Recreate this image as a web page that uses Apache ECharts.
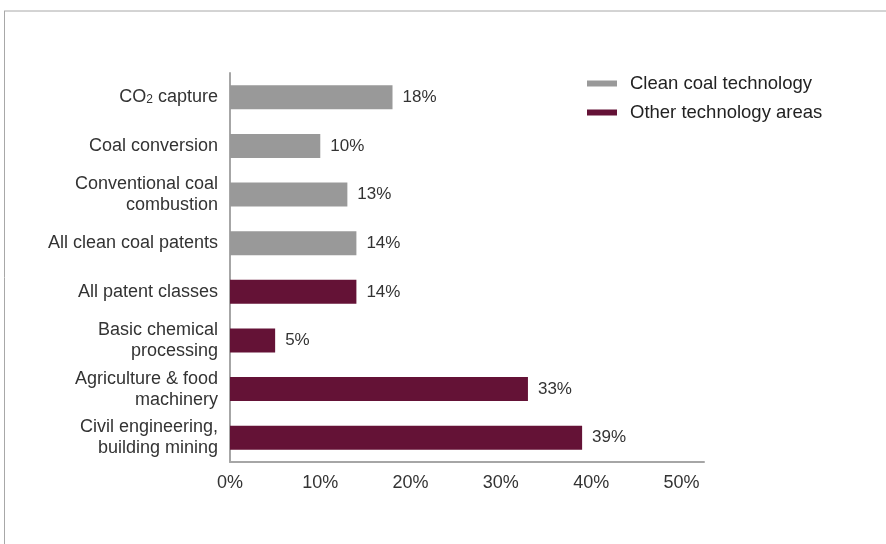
<!DOCTYPE html>
<html>
<head>
<meta charset="utf-8">
<script src="https://cdn.jsdelivr.net/npm/echarts@6/dist/echarts.min.js"></script>
<style>
  html, body { margin: 0; padding: 0; background: #fff; }
  #main { width: 886px; height: 544px; }
</style>
</head>
<body>
<div id="main"></div>
<script>
var categories = [
    'CO2 capture',
    'Coal conversion',
    'Conventional coal\ncombustion',
    'All clean coal patents',
    'All patent classes',
    'Basic chemical\nprocessing',
    'Agriculture & food\nmachinery',
    'Civil engineering,\nbuilding mining'
];
var cleanCoal = [18, 10, 13, 14, '-', '-', '-', '-'];
var otherAreas = ['-', '-', '-', '-', 14, 5, 33, 39];
var xTicks = [0, 10, 20, 30, 40, 50];

var myChart = echarts.init(document.getElementById('main'));
var font = '"Liberation Sans", Arial, sans-serif';

var option = {
    backgroundColor: '#fff',
    animation: false,
    textStyle: { fontFamily: font },
    graphic: [
        { type: 'line', shape: { x1: 4, y1: 11, x2: 886, y2: 11 }, style: { stroke: '#a8a8a8', lineWidth: 1 } },
        { type: 'line', shape: { x1: 4.5, y1: 11, x2: 4.5, y2: 544 }, style: { stroke: '#a8a8a8', lineWidth: 1 } }
    ],
    legend: {
        orient: 'vertical',
        left: 582,
        top: 69,
        itemWidth: 30,
        itemHeight: 6,
        itemGap: 10,
        icon: 'rect',
        textStyle: { fontSize: 18.5, color: '#222', padding: [0, 0, 0, 8] },
        data: ['Clean coal technology', 'Other technology areas']
    },
    grid: { left: 230, right: 182, top: 73, bottom: 82, containLabel: false },
    xAxis: {
        type: 'value',
        min: 0,
        max: 52.5,
        interval: 10,
        axisLine: { show: true, lineStyle: { color: '#a6a6a6', width: 2 } },
        axisTick: { show: false },
        splitLine: { show: false },
        axisLabel: {
            showMaxLabel: false,
            margin: 12,
            fontSize: 18,
            color: '#333',
            formatter: function (v) {
                return xTicks.indexOf(v) >= 0 ? v + '%' : '';
            }
        }
    },
    yAxis: {
        type: 'category',
        inverse: true,
        data: categories,
        axisLine: { show: true, lineStyle: { color: '#a6a6a6', width: 2 } },
        axisTick: { show: false },
        axisLabel: {
            margin: 12,
            fontSize: 18,
            color: '#333',
            lineHeight: 21,
            formatter: function (v) {
                if (v === 'CO2 capture') return 'CO{sub|2} capture';
                return v;
            },
            rich: {
                sub: { fontSize: 12, color: '#333', padding: [4, 0, 0, 0] }
            }
        }
    },
    series: [
        {
            name: 'Clean coal technology',
            type: 'bar',
            stack: 'all',
            barWidth: 24,
            data: cleanCoal,
            itemStyle: { color: '#999999' },
            label: { show: true, position: 'right', distance: 10, fontSize: 17, color: '#333', formatter: '{c}%' }
        },
        {
            name: 'Other technology areas',
            type: 'bar',
            stack: 'all',
            barWidth: 24,
            data: otherAreas,
            itemStyle: { color: '#641236' },
            label: { show: true, position: 'right', distance: 10, fontSize: 17, color: '#333', formatter: '{c}%' }
        }
    ]
};

myChart.setOption(option);
</script>
</body>
</html>
